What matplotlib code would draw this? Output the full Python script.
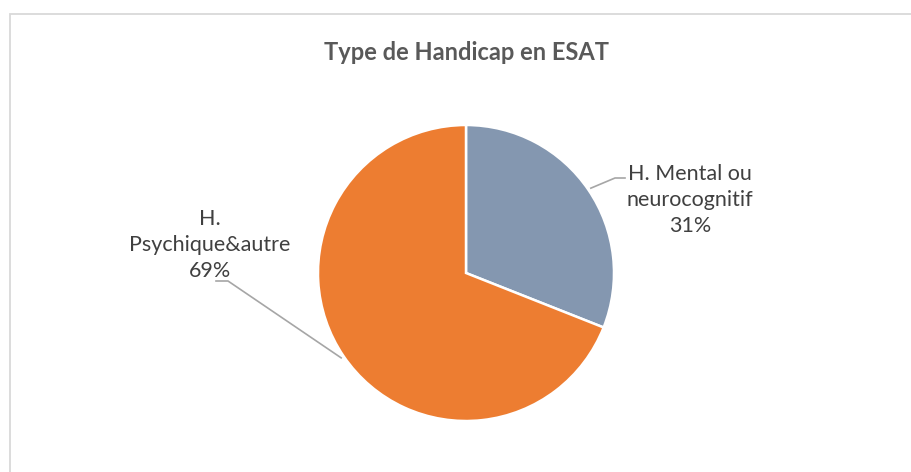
#!/usr/bin/env python3

import numpy as np
import matplotlib.pyplot as plt
from matplotlib.patches import Rectangle

# Data
categories = ['H. Mental ou\nneurocognitif', 'H.\nPsychique&autre']
shares = [31, 69]
colors = ['#8497B0', '#ED7D31']

W, H = 911, 472
fig = plt.figure(figsize=(W / 100, H / 100), dpi=100)
ax = fig.add_axes([0, 0, 1, 1])

# chart frame (clipped at right/bottom like the original)
ax.add_patch(Rectangle((9.5, -20), 1000, H - 13.5 + 20, fill=False,
                       edgecolor='#D9D9D9', linewidth=1.3))

center = (466, 199)
radius = 148
wedges, _ = ax.pie(shares, colors=colors, startangle=90, counterclock=False,
                   center=center, radius=radius, frame=True,
                   wedgeprops=dict(edgecolor='white', linewidth=1.8))
ax.set_xlim(0, W)
ax.set_ylim(0, H)
ax.set_aspect('equal')
ax.axis('off')

ax.text(466, H - 52, 'Type de Handicap en ESAT', ha='center', va='center',
        fontsize=17, fontweight='bold', color='#595959', family='Lato')

# labels with leader lines
label_pos = [(690, H - 200), (210, H - 245)]
elbow = [(615, H - 178), (228, H - 281)]
elbow_end = [(625, H - 178), (216, H - 281)]
for w, cat, pct, lp, e1, e2 in zip(wedges, categories, shares, label_pos, elbow, elbow_end):
    mid = np.deg2rad((w.theta1 + w.theta2) / 2)
    sx = center[0] + radius * 1.02 * np.cos(mid)
    sy = center[1] + radius * 1.02 * np.sin(mid)
    ax.plot([sx, e1[0], e2[0]], [sy, e1[1], e2[1]], color='#A6A6A6', lw=1.2)
    ax.text(lp[0], lp[1], f'{cat}\n{pct}%', ha='center', va='center',
            fontsize=15.5, color='#404040', family='Lato', linespacing=1.38)

plt.savefig('out.png', dpi=100)
